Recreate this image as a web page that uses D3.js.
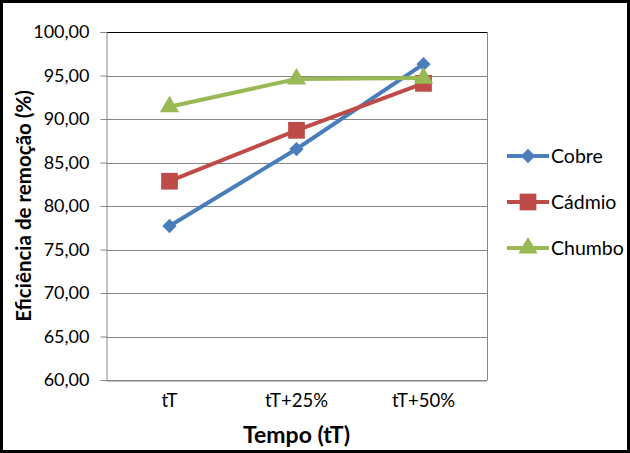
<!DOCTYPE html>
<html>
<head>
<meta charset="utf-8">
<script src="https://cdn.jsdelivr.net/npm/d3@7"></script>
<style>
  body { margin: 0; background: #fff; }
  svg { display: block; font-family: Lato, "Open Sans", sans-serif; }
</style>
</head>
<body>
<script>
const categories = ["tT", "tT+25%", "tT+50%"];
const seriesNames = ["Cobre", "Cádmio", "Chumbo"];
const cobre = [77.7, 86.55, 96.3];
const cadmio = [82.85, 88.7, 94.1];
const chumbo = [91.4, 94.6, 94.7];
const yTicks = [60, 65, 70, 75, 80, 85, 90, 95, 100];

const width = 630;
const height = 453;
const margin = { left: 106, right: 143, top: 32, bottom: 73 };

const series = [
	{ name: seriesNames[0], values: cobre, color: "#4a7ebb", shape: "diamond" },
	{ name: seriesNames[1], values: cadmio, color: "#be4b48", shape: "square" },
	{ name: seriesNames[2], values: chumbo, color: "#98b954", shape: "triangle" },
];

const svg = d3
	.select("body")
	.append("svg")
	.attr("width", width)
	.attr("height", height);

svg
	.append("rect")
	.attr("x", 1.5)
	.attr("y", 1.5)
	.attr("width", width - 3)
	.attr("height", height - 3)
	.attr("fill", "#fff")
	.attr("stroke", "#000")
	.attr("stroke-width", 3);

const x = d3
	.scaleBand()
	.domain(categories)
	.range([margin.left, width - margin.right]);
const y = d3
	.scaleLinear()
	.domain([60, 100])
	.range([height - margin.bottom, margin.top]);

// gridlines
svg
	.append("g")
	.selectAll("line")
	.data(yTicks)
	.enter()
	.append("line")
	.attr("x1", margin.left)
	.attr("x2", width - margin.right)
	.attr("y1", (d) => Math.round(y(d)) + 0.5)
	.attr("y2", (d) => Math.round(y(d)) + 0.5)
	.attr("stroke", (d) => (d === 100 ? "#000" : "#868686"))
	.attr("stroke-width", 1);

// right border of plot area
svg
	.append("line")
	.attr("x1", width - margin.right + 0.5)
	.attr("x2", width - margin.right + 0.5)
	.attr("y1", margin.top)
	.attr("y2", height - margin.bottom)
	.attr("stroke", "#868686");

const yAxis = d3
	.axisLeft(y)
	.tickValues(yTicks)
	.tickSize(6)
	.tickPadding(11)
	.tickFormat((d) => d3.format(".2f")(d).replace(".", ","));

const gy = svg
	.append("g")
	.attr("transform", `translate(${margin.left + 0.5},0)`)
	.call(yAxis);
gy.select(".domain").attr("stroke", "#868686");
gy.selectAll(".tick line").attr("stroke", "#868686");
gy.selectAll(".tick text")
	.attr("font-size", 18)
	.attr("fill", "#000")
	.attr("font-family", "Lato, 'Open Sans', sans-serif");

const xAxis = d3.axisBottom(x).tickSize(0).tickPadding(13);
const gx = svg
	.append("g")
	.attr("transform", `translate(0,${height - margin.bottom + 0.5})`)
	.call(xAxis);
gx.select(".domain").attr("stroke", "#868686");
gx.selectAll(".tick text")
	.attr("font-size", 18.5)
	.attr("fill", "#000")
	.attr("font-family", "Lato, 'Open Sans', sans-serif");

const line = d3
	.line()
	.x((d, i) => x(categories[i]) + x.bandwidth() / 2)
	.y((d) => y(d));

const symbolFor = (shape) => {
	if (shape === "diamond") return d3.symbol().type(d3.symbolDiamond2).size(130);
	if (shape === "square") return d3.symbol().type(d3.symbolSquare).size(280);
	return d3.symbol().type(d3.symbolTriangle).size(160);
};

series.forEach((s) => {
	const g = svg.append("g");
	g.append("path")
		.attr("d", line(s.values))
		.attr("fill", "none")
		.attr("stroke", s.color)
		.attr("stroke-width", 4)
		.attr("stroke-linejoin", "round");
	g.selectAll("path.m")
		.data(s.values)
		.enter()
		.append("path")
		.attr("class", "m")
		.attr("d", symbolFor(s.shape))
		.attr("transform", (d, i) => `translate(${x(categories[i]) + x.bandwidth() / 2},${y(d)})`)
		.attr("fill", s.color);
});

// axis titles
svg
	.append("text")
	.attr("x", x(categories[1]) + x.bandwidth() / 2)
	.attr("y", 443)
	.attr("text-anchor", "middle")
	.attr("font-size", 23)
	.attr("font-weight", "bold")
	.text("Tempo (tT)");

svg
	.append("text")
	.attr("transform", `translate(31,${(margin.top + height - margin.bottom) / 2}) rotate(-90)`)
	.attr("text-anchor", "middle")
	.attr("font-size", 20.5)
	.attr("font-weight", "bold")
	.text("Eficiência de remoção (%)");

// legend
const legend = svg.append("g");
const legendY = d3.scalePoint().domain(seriesNames).range([156, 248]);
series.forEach((s) => {
	const ly = legendY(s.name);
	legend
		.append("line")
		.attr("x1", 507)
		.attr("x2", 549)
		.attr("y1", ly)
		.attr("y2", ly)
		.attr("stroke", s.color)
		.attr("stroke-width", 4);
	legend
		.append("path")
		.attr("d", symbolFor(s.shape))
		.attr("transform", `translate(528,${ly})`)
		.attr("fill", s.color);
	legend
		.append("text")
		.attr("x", 551)
		.attr("y", ly)
		.attr("dy", "0.35em")
		.attr("font-size", 19.5)
		.text(s.name);
});
</script>
</body>
</html>
